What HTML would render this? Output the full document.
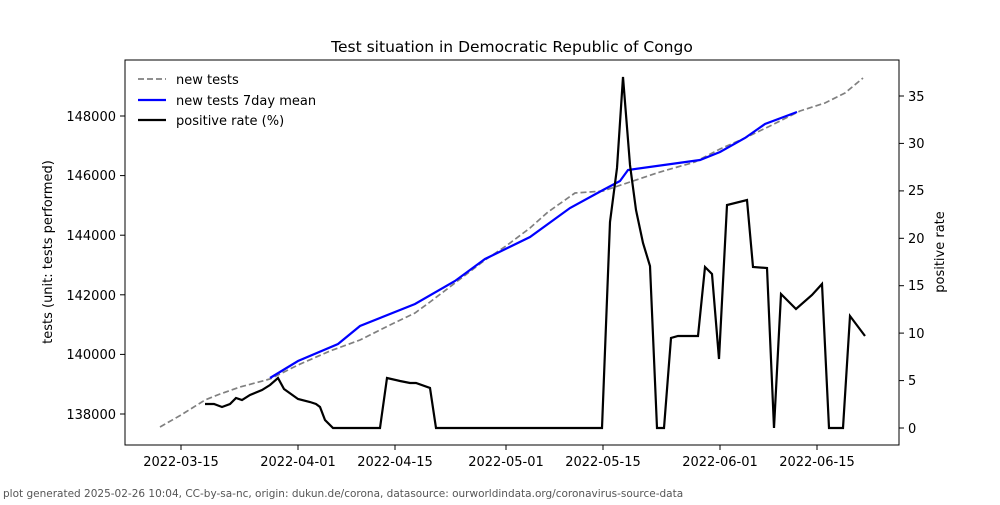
<!DOCTYPE html>
<html><head><meta charset="utf-8"><style>
body{margin:0;background:#fff;}
svg text{font-family:"DejaVu Sans","Liberation Sans",sans-serif;}
</style></head><body>
<svg width="1000" height="500" xmlns="http://www.w3.org/2000/svg">
<rect width="1000" height="500" fill="#fff"/>
<text x="512" y="52" font-size="15.5" text-anchor="middle">Test situation in Democratic Republic of Congo</text>
<rect x="125" y="60" width="774" height="385" fill="none" stroke="#000" stroke-width="1"/>
<g font-size="13" text-anchor="end">
<line x1="120" y1="414" x2="125" y2="414" stroke="#000"/><text x="116" y="419">138000</text>
<line x1="120" y1="354.4" x2="125" y2="354.4" stroke="#000"/><text x="116" y="359">140000</text>
<line x1="120" y1="294.8" x2="125" y2="294.8" stroke="#000"/><text x="116" y="300">142000</text>
<line x1="120" y1="235.2" x2="125" y2="235.2" stroke="#000"/><text x="116" y="240">144000</text>
<line x1="120" y1="175.6" x2="125" y2="175.6" stroke="#000"/><text x="116" y="180">146000</text>
<line x1="120" y1="116" x2="125" y2="116" stroke="#000"/><text x="116" y="121">148000</text>
</g>
<g font-size="13">
<line x1="899" y1="428" x2="904" y2="428" stroke="#000"/><text x="908" y="433">0</text>
<line x1="899" y1="380.6" x2="904" y2="380.6" stroke="#000"/><text x="908" y="385">5</text>
<line x1="899" y1="333.1" x2="904" y2="333.1" stroke="#000"/><text x="908" y="338">10</text>
<line x1="899" y1="285.7" x2="904" y2="285.7" stroke="#000"/><text x="908" y="290">15</text>
<line x1="899" y1="238.3" x2="904" y2="238.3" stroke="#000"/><text x="908" y="243">20</text>
<line x1="899" y1="190.9" x2="904" y2="190.9" stroke="#000"/><text x="908" y="195">25</text>
<line x1="899" y1="143.4" x2="904" y2="143.4" stroke="#000"/><text x="908" y="148">30</text>
<line x1="899" y1="96" x2="904" y2="96" stroke="#000"/><text x="908" y="101">35</text>
</g>
<g font-size="13" text-anchor="middle">
<line x1="181" y1="445" x2="181" y2="450" stroke="#000"/><text x="181" y="466">2022-03-15</text>
<line x1="298" y1="445" x2="298" y2="450" stroke="#000"/><text x="298" y="466">2022-04-01</text>
<line x1="395" y1="445" x2="395" y2="450" stroke="#000"/><text x="395" y="466">2022-04-15</text>
<line x1="506" y1="445" x2="506" y2="450" stroke="#000"/><text x="506" y="466">2022-05-01</text>
<line x1="603" y1="445" x2="603" y2="450" stroke="#000"/><text x="603" y="466">2022-05-15</text>
<line x1="720" y1="445" x2="720" y2="450" stroke="#000"/><text x="720" y="466">2022-06-01</text>
<line x1="817" y1="445" x2="817" y2="450" stroke="#000"/><text x="817" y="466">2022-06-15</text>
</g>
<text transform="translate(52,252) rotate(-90)" font-size="13" text-anchor="middle">tests (unit: tests performed)</text>
<text transform="translate(944,252) rotate(-90)" font-size="13" text-anchor="middle">positive rate</text>
<polyline fill="none" stroke="#808080" stroke-width="1.7" stroke-dasharray="6,3" points="160,427 181,415 205,400 220,394 240,387 270,379 298,365 330,351 360,340 390,325 415,313 430,302 455,283 485,260 506,246 530,228 548,212 575,193 603,191 630,182 660,172 695,162 720,149 745,138 770,126 800,111 825,103 845,93 863,78"/>
<polyline fill="none" stroke="#0000ff" stroke-width="2.2" points="270,378 298,361 338,344 360,326 415,304 455,281 485,259 530,237 570,208 603,190 620,181 628,170 700,160 720,152 745,138 765,124 797,112"/>
<polyline fill="none" stroke="#000" stroke-width="2.2" points="205,404 214,404 222,407 230,404 236,398 242,400 250,395 262,390 270,385 278,378 284,389 298,399 310,402 316,404 320,407 325,420 333,428 380,428 387,378 400,381 410,383 416,383 430,388 436,428 602,428 610,222 617,168 623,77 630,165 636,210 643,243 650,266 657,428 664,428 671,338 678,336 698,336 705,267 712,274 719,359 727,205 747,200 753,267 767,268 774,428 781,294 796,309 812,295 822,284 829,428 843,428 850,316 865,336"/>
<g font-size="13">
<line x1="138" y1="79" x2="166" y2="79" stroke="#808080" stroke-width="1.7" stroke-dasharray="6,3"/><text x="176" y="84">new tests</text>
<line x1="138" y1="100" x2="166" y2="100" stroke="#0000ff" stroke-width="2.2"/><text x="176" y="105">new tests 7day mean</text>
<line x1="138" y1="120" x2="166" y2="120" stroke="#000" stroke-width="2.2"/><text x="176" y="125">positive rate (%)</text>
</g>
<text x="3" y="497" font-size="10.5" fill="#555">plot generated 2025-02-26 10:04, CC-by-sa-nc, origin: dukun.de/corona, datasource: ourworldindata.org/coronavirus-source-data</text>
</svg>
</body></html>
